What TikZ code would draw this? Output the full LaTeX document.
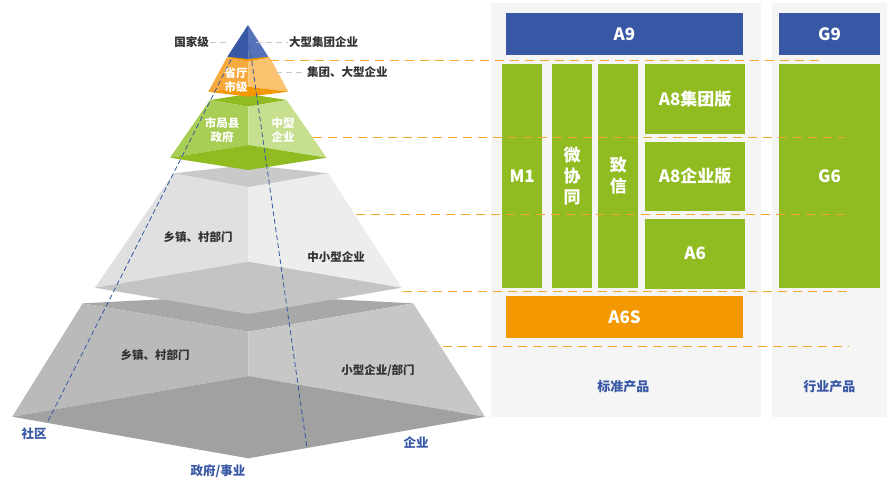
\documentclass[tikz,border=0pt]{standalone}
\usepackage{fontspec}
\setmainfont{Noto Sans CJK SC}
\usepackage{tikz}
\usetikzlibrary{positioning}
\definecolor{ypblue}{HTML}{3857A5}
\definecolor{ypblueL}{HTML}{5673B9}
\definecolor{ypgreen}{HTML}{90BC22}
\definecolor{ypgreenM}{HTML}{A8CE55}
\definecolor{ypgreenL}{HTML}{C6E08F}
\definecolor{yporange}{HTML}{F39800}
\definecolor{yporangeM}{HTML}{F6A93C}
\definecolor{yporangeL}{HTML}{F9C36F}
\definecolor{ypdash}{HTML}{F4A62A}
\definecolor{yppanel}{HTML}{F5F5F5}
\definecolor{yptext}{HTML}{333333}

\begin{document}
\begin{tikzpicture}[x=1pt,y=-1pt,
    prod/.style={fill=#1, text=white, inner sep=0pt, font=\bfseries\fontsize{17}{21}\selectfont, align=center},
    lvl/.style={text=yptext, font=\bfseries\fontsize{11.5}{13.5}\selectfont, align=center},
    lvlw/.style={text=white, font=\bfseries\fontsize{11.5}{13.5}\selectfont, align=center},
    corner/.style={text=ypblue, font=\bfseries\fontsize{12.5}{14}\selectfont},
    panel/.style={text=ypblue, font=\bfseries\fontsize{13}{15}\selectfont},
    tier/.style={draw=ypdash, line width=1.1pt, dash pattern=on 9pt off 6pt},
    tag/.style={draw=black!22, line width=0.9pt, dash pattern=on 6pt off 4pt},
    axis/.style={draw=ypblue, line width=0.8pt, dash pattern=on 5pt off 3pt}]
            \useasboundingbox (0,0) rectangle (896,485);
            \fill[yppanel] (490.7,3.3) rectangle (760.7,417);
            \fill[yppanel] (772,3.3) rectangle (886.7,417);
            \coordinate (P1) at (82.7,303.3);
            \coordinate (P2) at (248.3,295);
            \coordinate (P3) at (413.3,303.3);
            \coordinate (P4) at (248.3,331.7);
            \coordinate (P5) at (12.3,416.7);
            \coordinate (P6) at (248.3,376);
            \coordinate (P7) at (485,416.7);
            \coordinate (P8) at (248.3,458.3);
            \fill[black!34] (P1) -- (P2) -- (P3) -- (P4) -- cycle;
            \fill[black!27] (P1) -- (P4) -- (P6) -- (P5) -- cycle;
            \fill[black!22] (P4) -- (P3) -- (P7) -- (P6) -- cycle;
            \fill[black!37] (P5) -- (P6) -- (P7) -- (P8) -- cycle;
            \coordinate (Q1) at (173.3,173.3);
            \coordinate (Q2) at (248.3,165);
            \coordinate (Q3) at (328.3,173.3);
            \coordinate (Q4) at (248.3,187.3);
            \coordinate (Q5) at (95,287.7);
            \coordinate (Q6) at (248.3,261.7);
            \coordinate (Q7) at (401.7,287.7);
            \coordinate (Q8) at (248.3,314);
            \fill[black!21] (Q1) -- (Q2) -- (Q3) -- (Q4) -- cycle;
            \fill[black!12] (Q1) -- (Q4) -- (Q6) -- (Q5) -- cycle;
            \fill[black!7]  (Q4) -- (Q3) -- (Q7) -- (Q6) -- cycle;
            \fill[black!23] (Q5) -- (Q6) -- (Q7) -- (Q8) -- cycle;
            \coordinate (R1) at (210,100);
            \coordinate (R2) at (248.3,94);
            \coordinate (R3) at (286.6,100);
            \coordinate (R4) at (248.3,106.7);
            \coordinate (R5) at (170,157.7);
            \coordinate (R6) at (248.3,145);
            \coordinate (R7) at (326.6,157.7);
            \coordinate (R8) at (248.3,170);
            \fill[ypgreen]  (R1) -- (R2) -- (R3) -- (R4) -- cycle;
            \fill[ypgreenM] (R1) -- (R4) -- (R6) -- (R5) -- cycle;
            \fill[ypgreenL] (R4) -- (R3) -- (R7) -- (R6) -- cycle;
            \fill[ypgreen]  (R5) -- (R6) -- (R7) -- (R8) -- cycle;
            \coordinate (S1) at (226.7,57.7);
            \coordinate (S2) at (248.3,54);
            \coordinate (S3) at (270,57.7);
            \coordinate (S4) at (248.3,61.7);
            \coordinate (S5) at (208.3,91.7);
            \coordinate (S6) at (248.3,86.7);
            \coordinate (S7) at (288.3,91.7);
            \coordinate (S8) at (248.3,96.7);
            \fill[yporange]  (S1) -- (S2) -- (S3) -- (S4) -- cycle;
            \fill[yporangeM] (S1) -- (S4) -- (S6) -- (S5) -- cycle;
            \fill[yporangeL] (S4) -- (S3) -- (S7) -- (S6) -- cycle;
            \fill[yporange]  (S5) -- (S6) -- (S7) -- (S8) -- cycle;
            \coordinate (T0) at (248,25);
            \coordinate (T1) at (227.3,56.7);
            \coordinate (T2) at (248.3,59);
            \coordinate (T3) at (268.3,56.7);
            \fill[ypblue]  (T0) -- (T1) -- (T2) -- cycle;
            \fill[ypblueL] (T0) -- (T2) -- (T3) -- cycle;
            \coordinate (U1) at (242,38);
            \coordinate (U2) at (47,423);
            \coordinate (V1) at (249.5,45);
            \coordinate (V2) at (306.7,446);
            \draw[axis] (U1) -- (U2);
            \draw[axis] (V1) -- (V2);
            \node[lvlw] (shengting) at (236,80) {省厅\\市级};
            \node[lvlw] (shiju) at (222,130) {市局县\\政府};
            \node[lvlw] (zhongxing) at (283,130) {中型\\企业};
            \node[lvl] (xiangzhen1) at (198,237) {乡镇、村部门};
            \node[lvl] (zhongxiao) at (336,257) {中小型企业};
            \node[lvl] (xiangzhen2) at (155,355) {乡镇、村部门};
            \node[lvl] (xiaoxing) at (378,371) {小型企业/部门};
            \node[corner] (shequ) at (34,434) {社区};
            \node[corner] (zhengfu) at (218,471) {政府/事业};
            \node[corner] (qiye) at (416,443) {企业};
            \node[lvl, anchor=east, inner sep=1pt] (guojia) at (210,42) {国家级};
            \node[lvl, anchor=west, inner sep=1pt] (daxing) at (288,42) {大型集团企业};
            \node[lvl, anchor=west, inner sep=1pt] (jituan) at (306,72) {集团、大型企业};
            \coordinate (guojiaEnd) at (229,42);
            \coordinate (daxingEnd) at (256,42);
            \coordinate (jituanEnd) at (276,72);
            \draw[tag] (guojia) -- (guojiaEnd);
            \draw[tag] (daxingEnd) -- (daxing);
            \draw[tag] (jituanEnd) -- (jituan);
            \node[prod=ypblue, minimum width=237.6pt, minimum height=41.7pt] (A9) at (624.5,34.2) {A9};
            \node[prod=ypblue, minimum width=101pt, minimum height=41.7pt] (G9) at (829.5,34.2) {G9};
            \node[prod=ypgreen, minimum width=40.3pt, minimum height=223.4pt] (M1) at (522.2,176) {M1};
            \node[prod=ypgreen, minimum width=40.3pt, minimum height=223.4pt] (wxt) at (572.2,176) {微\\协\\同};
            \node[prod=ypgreen, minimum width=40pt, minimum height=223.4pt] (zhixin) at (618.3,176) {致\\信};
            \node[prod=ypgreen, minimum width=100.3pt, minimum height=70pt] (A8J) at (695.2,99.3) {A8集团版};
            \node[prod=ypgreen, minimum width=100.3pt, minimum height=69.7pt, below=6.8pt of A8J] (A8Q) {A8企业版};
            \node[prod=ypgreen, minimum width=100.3pt, minimum height=69.7pt, below=7.3pt of A8Q] (A6) {A6};
            \node[prod=ypgreen, minimum width=101pt, minimum height=223.4pt] (G6) at (829.5,176) {G6};
            \node[prod=yporange, minimum width=237.6pt, minimum height=41.7pt] (A6S) at (624.5,316.8) {A6S};
            \node[panel] (biaozhun) at (623.3,386.7) {标准产品};
            \node[panel] (hangye) at (829.3,386.7) {行业产品};
            \coordinate (D1a) at (270,60.3);
            \coordinate (D1b) at (825,60.3);
            \coordinate (D2a) at (313,137.3);
            \coordinate (D2b) at (845,137.3);
            \coordinate (D3a) at (356,214.3);
            \coordinate (D3b) at (849,214.3);
            \coordinate (D4a) at (402.7,291.3);
            \coordinate (D4b) at (849,291.3);
            \coordinate (D5a) at (443,346.3);
            \coordinate (D5b) at (849,346.3);
            \draw[tier] (D1a) -- (D1b);
            \draw[tier] (D2a) -- (D2b);
            \draw[tier] (D3a) -- (D3b);
            \draw[tier] (D4a) -- (D4b);
            \draw[tier] (D5a) -- (D5b);
        \end{tikzpicture}
\end{document}
